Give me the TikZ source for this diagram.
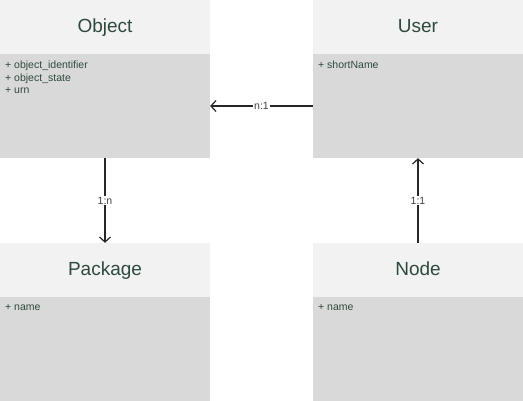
\documentclass[tikz,border=0pt]{standalone}
\usepackage{fontspec}
\setmainfont{Liberation Sans}
\usetikzlibrary{arrows.meta}
\definecolor{headfill}{HTML}{F2F2F2}
\definecolor{bodyfill}{HTML}{D9D9D9}
\definecolor{umltext}{HTML}{2E4A3C}
\begin{document}
\begin{tikzpicture}[x=1pt,y=-1pt]
      \tikzstyle{every node}+=[inner sep=0pt]
      \tikzstyle{head}=[fill=headfill, minimum width=210pt, minimum height=54pt, text height=13pt, text depth=1pt, text=umltext, font=\fontsize{19}{22}\selectfont]
      \tikzstyle{body}=[fill=bodyfill, minimum width=210pt, minimum height=104pt]
      \tikzstyle{attr}=[anchor=north west, align=left, text=umltext, font=\fontsize{10.5}{12.5}\selectfont]
      \tikzstyle{assoc}=[black!85, line width=1.2pt, -{Straight Barb[length=5pt,width=11pt,line width=1.2pt]}]
      \tikzstyle{mult}=[fill=white, inner sep=1pt, text=black!75, font=\fontsize{10.5}{12}\selectfont]
      \fill [white] (0,0) rectangle (523,401);
      % classes
      \node [head] (objhead) at (105,27) {Object};
      \node [body] (obj) at (105,106) {};
      \node [attr] (objattr) at (5,61) {+ object\_identifier\\+ object\_state\\+ urn};
      \node [head] (userhead) at (418,27) {User};
      \node [body] (user) at (418,106) {};
      \node [attr] (userattr) at (318,61) {+ shortName};
      \node [head] (pkghead) at (105,270) {Package};
      \node [body] (pkg) at (105,349) {};
      \node [attr] (pkgattr) at (5,304) {+ name};
      \node [head] (nodehead) at (418,270) {Node};
      \node [body] (nd) at (418,349) {};
      \node [attr] (ndattr) at (318,304) {+ name};
      % associations
      \draw [assoc] (user.west) -- node [mult] {n:1} (obj.east);
      \draw [assoc] (obj.south) -- node [mult] {1:n} (pkghead.north);
      \draw [assoc] (nodehead.north) -- node [mult] {1:1} (user.south);
\end{tikzpicture}
\end{document}
